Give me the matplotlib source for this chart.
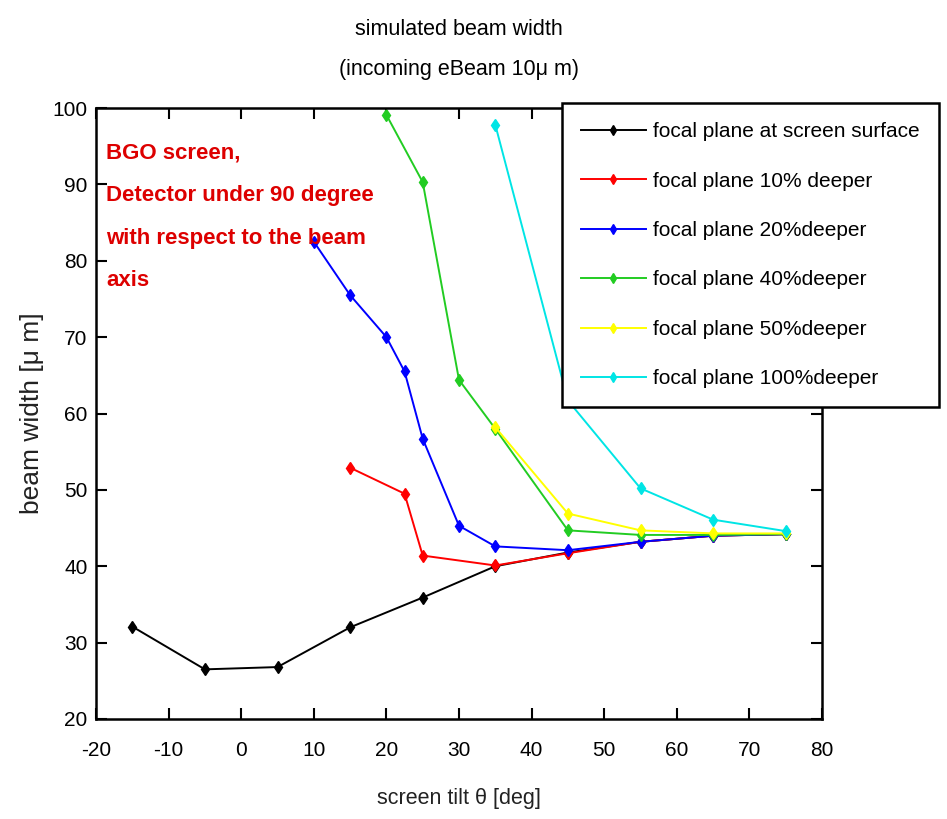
import matplotlib
matplotlib.use("Agg")
import matplotlib.pyplot as plt

plt.rcParams['font.family'] = ['Liberation Sans', 'DejaVu Sans']
plt.rcParams['axes.unicode_minus'] = False

# ---- data ----
x_surface = [-15, -5, 5, 15, 25, 35, 45, 55, 65, 75]
y_surface = [32.1, 26.5, 26.8, 32.0, 35.9, 40.0, 41.8, 43.2, 44.0, 44.2]

x_10 = [15, 22.5, 25, 35, 45, 55, 65, 75]
y_10 = [52.9, 49.5, 41.4, 40.1, 41.7, 43.2, 44.0, 44.2]

x_20 = [10, 15, 20, 22.5, 25, 30, 35, 45, 55, 65, 75]
y_20 = [82.5, 75.5, 70.0, 65.5, 56.7, 45.3, 42.6, 42.1, 43.2, 44.0, 44.2]

x_40 = [20, 25, 30, 35, 45, 55, 65, 75]
y_40 = [99.1, 90.3, 64.4, 58.0, 44.7, 44.1, 44.1, 44.2]

x_50 = [35, 45, 55, 65, 75]
y_50 = [58.2, 46.9, 44.7, 44.3, 44.3]

x_100 = [35, 45, 55, 65, 75]
y_100 = [97.8, 61.7, 50.2, 46.1, 44.6]

labels = ['focal plane at screen surface', 'focal plane 10% deeper',
          'focal plane 20%deeper', 'focal plane 40%deeper',
          'focal plane 50%deeper', 'focal plane 100%deeper']
colors = ['#000000', '#ff0000', '#0000ff', '#22cc22', '#ffff00', '#00e5e5']

xticks = [-20, -10, 0, 10, 20, 30, 40, 50, 60, 70, 80]
yticks = [20, 30, 40, 50, 60, 70, 80, 90, 100]

fig = plt.figure(figsize=(9.47, 8.19), dpi=100)
ax = fig.add_axes([96/947, 1 - 719/819, (822-96)/947, (719-108)/819])

series = [(x_surface, y_surface), (x_10, y_10), (x_20, y_20),
          (x_40, y_40), (x_50, y_50), (x_100, y_100)]
for (xs, ys), c, lab in zip(series, colors, labels):
    ax.plot(xs, ys, color=c, lw=1.4, marker='d', ms=6, mfc=c, mec=c, label=lab)

ax.set_xlim(-20, 80)
ax.set_ylim(20, 100)
ax.set_xticks(xticks)
ax.set_yticks(yticks)
ax.tick_params(direction='in', length=8, width=1.5, top=True, right=True,
               labelsize=15)
ax.tick_params(axis='x', pad=16)
ax.tick_params(axis='y', pad=6)
for s in ax.spines.values():
    s.set_linewidth(1.8)

ax.set_xlabel('screen tilt θ [deg]', fontsize=15.5, labelpad=20, color='#222222')
ax.set_ylabel('beam width [μ m]', fontsize=19, labelpad=6, color='#222222')
ax.set_title('simulated beam width\n(incoming eBeam 10μ m)', fontsize=15.5,
             pad=24, linespacing=2.15)

ax.text(106/947, 1 - 143/819,
        'BGO screen,\nDetector under 90 degree\nwith respect to the beam\naxis',
        transform=fig.transFigure, color='#dd0000', fontsize=16,
        fontweight='bold', va='top', ha='left', linespacing=2.33)

leg = ax.legend(loc='upper left', bbox_to_anchor=(562/947, 1 - 103/819),
                bbox_transform=fig.transFigure, fontsize=15, frameon=True,
                fancybox=False, framealpha=1, edgecolor='black',
                handlelength=3.1, handletextpad=0.35, labelspacing=1.46,
                borderpad=0.92, borderaxespad=0)
leg.get_frame().set_linewidth(1.8)
for h in leg.legend_handles:
    h.set_markersize(5)

fig.savefig('out.png', dpi=100)
